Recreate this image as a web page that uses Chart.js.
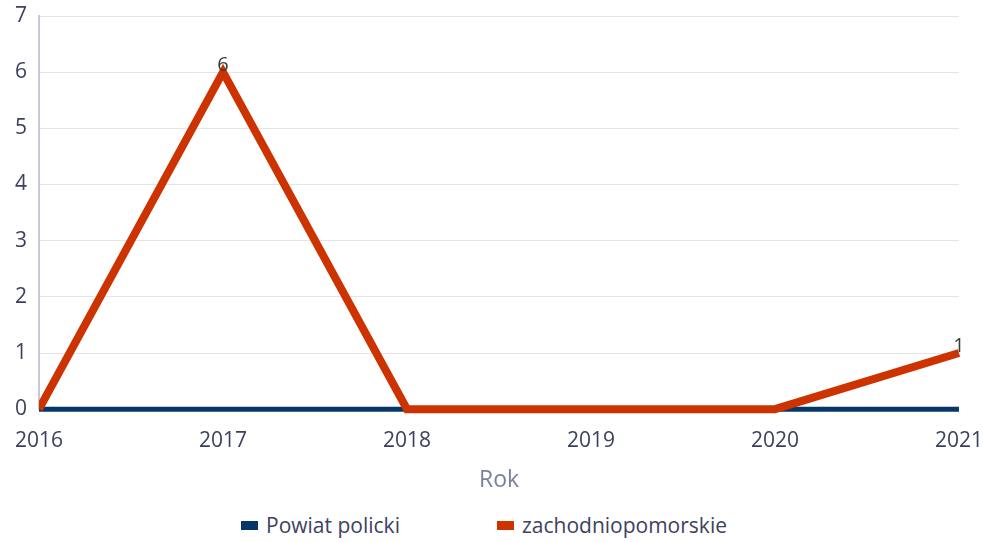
<!DOCTYPE html>
<html>
<head>
  <title>Rok</title>
  <script src="https://cdn.jsdelivr.net/npm/chart.js"></script>
  <style>
    body { margin: 0; background: #fff; font-family: "Open Sans", sans-serif; }
    #wrap { position: relative; width: 983px; height: 542px; }
    #box { position: absolute; left: 0; top: 0; width: 983px; height: 502px; }
    #legend { position: absolute; left: 0; top: 511px; width: 968px; padding-right: 15px; display: flex; justify-content: center; gap: 97px; font-size: 21px; color: #3e4160; }
    #legend span.item { display: flex; align-items: center; }
    #legend span.sw { display: inline-block; width: 17px; height: 9px; margin-right: 8px; }
  </style>
</head>
<body>
  <div id="wrap">
    <div id="box"><canvas id="myChart"></canvas></div>
    <div id="legend"></div>
  </div>

  <script>
    const years = ['2016', '2017', '2018', '2019', '2020', '2021'];
    const powiatPolicki = [0, 0, 0, 0, 0, 0];
    const zachodniopomorskie = [0, 6, 0, 0, 0, 1];
    const yTicks = [0, 1, 2, 3, 4, 5, 6, 7];

    const seriesNames = ['Powiat policki', 'zachodniopomorskie'];
    const seriesColors = ['#063768', '#cc3300'];

    // value labels above non-zero points
    const valueLabels = {
      id: 'valueLabels',
      afterDatasetsDraw(chart) {
        const ctx = chart.ctx;
        ctx.save();
        ctx.font = '20px "Open Sans"';
        ctx.fillStyle = '#3a3a3a';
        ctx.textAlign = 'center';
        ctx.textBaseline = 'bottom';
        chart.data.datasets.forEach((ds, i) => {
          const meta = chart.getDatasetMeta(i);
          meta.data.forEach((pt, j) => {
            if (ds.data[j] !== 0) ctx.fillText(ds.data[j], pt.x, pt.y + 3);
          });
        });
        ctx.restore();
      }
    };

    const ctx = document.getElementById('myChart').getContext('2d');
    new Chart(ctx, {
      type: 'line',
      data: {
        labels: years,
        datasets: [{
          label: seriesNames[0],
          data: powiatPolicki,
          borderColor: seriesColors[0],
          backgroundColor: seriesColors[0],
          borderWidth: 5,
          pointRadius: 0,
          tension: 0,
          clip: false,
          order: 1
        }, {
          label: seriesNames[1],
          data: zachodniopomorskie,
          borderColor: seriesColors[1],
          backgroundColor: seriesColors[1],
          borderWidth: 8,
          pointRadius: 0,
          tension: 0,
          clip: { left: 0, top: 10, right: 10, bottom: 10 },
          order: 0
        }]
      },
      options: {
        responsive: true,
        maintainAspectRatio: false,
        animation: false,
        layout: { padding: { top: 16, left: 15, bottom: 4 } },
        plugins: {
          legend: { display: false },
          tooltip: { enabled: false }
        },
        scales: {
          x: {
            grid: { display: true, drawOnChartArea: false, drawTicks: true, tickLength: 19, tickColor: 'transparent' },
            border: { display: false },
            ticks: { color: '#3d4060', font: { family: 'Open Sans', size: 21 }, padding: 0, maxRotation: 0 },
            title: { display: true, text: 'Rok', color: '#7b80a0', font: { family: 'Open Sans', size: 23 }, padding: { top: 13, bottom: 4 } }
          },
          y: {
            min: 0,
            max: 7,
            afterBuildTicks(axis) { axis.ticks = yTicks.map(v => ({ value: v })); },
            grid: { color: '#e4e4ec', drawTicks: true, tickLength: 12, tickColor: 'transparent' },
            border: { color: '#c5c8dc', width: 2 },
            ticks: { color: '#3d4060', font: { family: 'Open Sans', size: 21 }, padding: 0 }
          }
        }
      },
      plugins: [valueLabels]
    });

    document.getElementById('legend').innerHTML = seriesNames.map((n, i) =>
      '<span class="item"><span class="sw" style="background:' + seriesColors[i] + '"></span>' + n + '</span>'
    ).join('');
  </script>
</body>
</html>
